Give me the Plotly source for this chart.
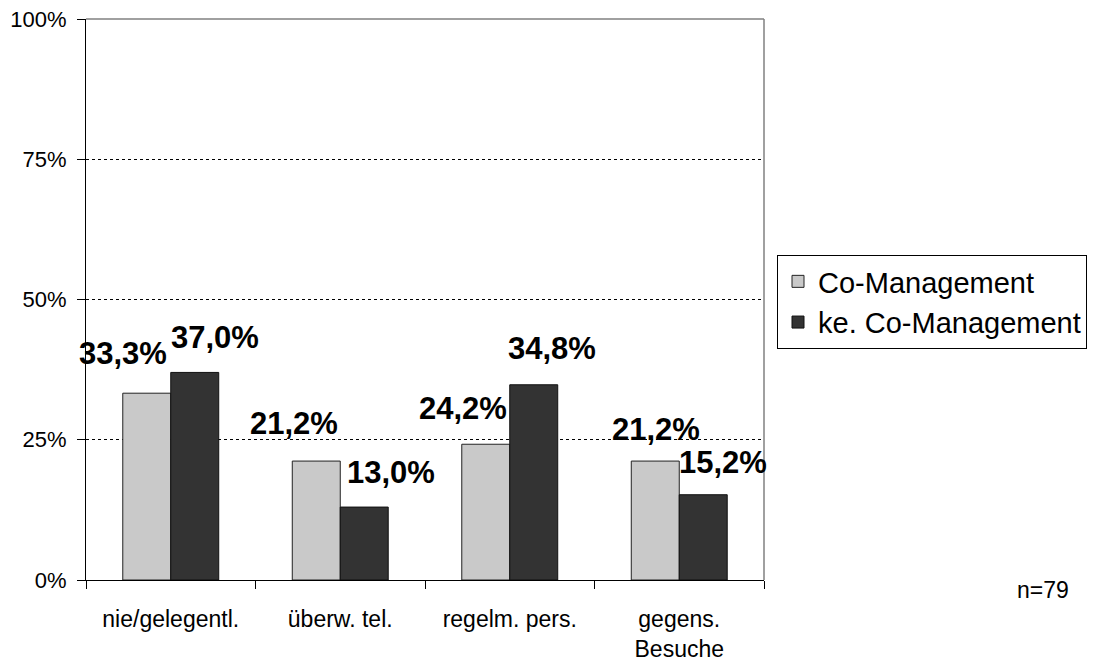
import plotly.graph_objects as go

categories = ["nie/gelegentl.", "überw. tel.", "regelm. pers.", "gegens.<br>Besuche"]
series_names = ["Co-Management", "ke. Co-Management"]
co_management = [33.3, 21.2, 24.2, 21.2]
ke_co_management = [37.0, 13.0, 34.8, 15.2]
y_ticks = [0, 25, 50, 75, 100]
y_tick_labels = ["0%", "25%", "50%", "75%", "100%"]
n_note = "n=79"

# label pixel offsets relative to the category centre (style only)
label_dx_1 = [-48, -46, -47, -23]
label_dx_2 = [44, 51, 42, 44]
label_dy_1 = [40, 38, 36, 32]
label_dy_2 = [35, 35, 36, 32]

FONT = "Liberation Sans, Arial, sans-serif"

# the page adds an 8px body margin, compensate in the figure margins
PAD = 8
PLOT_W, PLOT_H = 678, 561
ML, MT, MR, MB = 86 - PAD, 19 - PAD, 347, 81

fig = go.Figure()
fig.add_trace(go.Bar(
    name=series_names[0], x=categories, y=co_management,
    marker=dict(color="#C9C9C9", line=dict(color="#222222", width=1)),
))
fig.add_trace(go.Bar(
    name=series_names[1], x=categories, y=ke_co_management,
    marker=dict(color="#333333", line=dict(color="#111111", width=1)),
))

def fmt(v):
    return f"{v:.1f}".replace(".", ",") + "%"

annotations = []
for vals, dxs, dys in [(co_management, label_dx_1, label_dy_1),
                       (ke_co_management, label_dx_2, label_dy_2)]:
    for c, v, dx, dy in zip(categories, vals, dxs, dys):
        annotations.append(dict(
            x=c, y=v, xref="x", yref="y", text=fmt(v), showarrow=False,
            xanchor="center", yanchor="middle", xshift=dx, yshift=dy,
            font=dict(family=FONT, size=31, color="black", weight="bold"),
        ))
annotations.append(dict(
    x=1.0 + (1043 - 764) / PLOT_W, y=-(590 - 580) / PLOT_H, xref="paper", yref="paper",
    text=n_note, showarrow=False, xanchor="center", yanchor="middle",
    font=dict(family=FONT, size=23, color="black"),
))

fig.update_layout(
    width=ML + PLOT_W + MR, height=MT + PLOT_H + MB,
    margin=dict(l=ML, r=MR, t=MT, b=MB, autoexpand=False),
    paper_bgcolor="white", plot_bgcolor="white",
    barmode="group", bargap=0.434, bargroupgap=0,
    font=dict(family=FONT, color="black"),
    showlegend=True,
    legend=dict(
        x=(777 - 86) / PLOT_W, y=(580 - 255) / PLOT_H, xanchor="left", yanchor="top",
        bordercolor="black", borderwidth=1, bgcolor="white",
        font=dict(family=FONT, size=29, color="black"),
        itemwidth=30, tracegroupgap=0,
    ),
    annotations=annotations,
    shapes=[
        dict(type="line", xref="paper", yref="paper", x0=0, x1=1, y0=1, y1=1,
             line=dict(color="#808080", width=1.5), layer="above"),
        dict(type="line", xref="paper", yref="paper", x0=1, x1=1, y0=0, y1=1,
             line=dict(color="#808080", width=1.5), layer="above"),
    ],
)
fig.update_xaxes(
    range=[-0.5, len(categories) - 0.5],
    showline=True, linecolor="black", linewidth=1,
    ticks="outside", ticklen=8, tickcolor="black", tickson="boundaries",
    tickfont=dict(family=FONT, size=23, color="black"),
    showgrid=False, ticklabelstandoff=18,
)
fig.update_yaxes(
    range=[0, 100], tickvals=y_ticks, ticktext=y_tick_labels,
    showline=True, linecolor="black", linewidth=1,
    ticks="outside", ticklen=8, tickcolor="black",
    tickfont=dict(family=FONT, size=22, color="black"),
    showgrid=True, gridcolor="black", gridwidth=1, griddash="dot",
    zeroline=False, ticklabelstandoff=6, ticklabeloverflow="allow",
)

fig.write_html("out.html")
